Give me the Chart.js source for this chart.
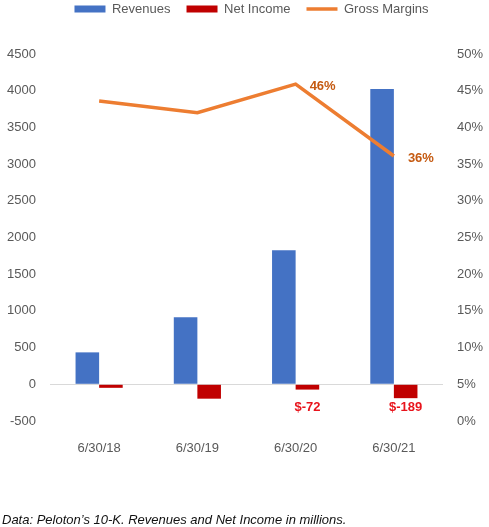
<!DOCTYPE html>
<html lang="en">
<head>
  <meta charset="UTF-8" />
  <title>Peloton Revenues, Net Income and Gross Margins</title>
  <script src="https://cdn.jsdelivr.net/npm/chart.js"></script>
  <style>
    body {
      margin: 0;
      background: #fff;
      font-family: "Liberation Sans", Arial, sans-serif;
    }

    .chart-box {
      position: relative;
      width: 489px;
      height: 527px;
    }

    .caption {
      position: absolute;
      left: 2px;
      top: 512px;
      font-size: 13px;
      font-style: italic;
      color: #111;
      white-space: nowrap;
    }
  </style>
</head>
<body>
  <div class="chart-box">
    <canvas id="chart-peloton"></canvas>
    <div class="caption">Data: Peloton’s 10-K. Revenues and Net Income in millions.</div>
  </div>

  <script>
    const years = ["6/30/18", "6/30/19", "6/30/20", "6/30/21"];
    const revenues = [435, 915, 1826, 4022];
    const netIncome = [-48, -196, -72, -189];
    const grossMargins = [43.6, 42.0, 45.9, 36.1];

    // which points get a value label
    const marginLabelAt = [2, 3];
    const incomeLabelAt = [2, 3];

    const axisGray = "#595959";

    const valueLabels = {
      id: "valueLabels",
      afterDatasetsDraw(chart) {
        const ctx = chart.ctx;
        ctx.save();
        ctx.font = "bold 13px 'Liberation Sans', Arial, sans-serif";
        ctx.textBaseline = "middle";

        const line = chart.getDatasetMeta(2);
        ctx.fillStyle = "#c55a11";
        ctx.textAlign = "left";
        marginLabelAt.forEach(i => {
          const p = line.data[i];
          ctx.fillText(Math.round(grossMargins[i]) + "%", p.x + 14, p.y + 2);
        });

        const bars = chart.getDatasetMeta(1);
        const yLabel = chart.scales.y.getPixelForValue(-315);
        ctx.fillStyle = "#e8141c";
        ctx.textAlign = "center";
        incomeLabelAt.forEach(i => {
          const b = bars.data[i];
          ctx.fillText("$" + netIncome[i], b.x, yLabel);
        });
        ctx.restore();
      }
    };

    new Chart(document.getElementById("chart-peloton"), {
      type: "bar",
      data: {
        labels: years,
        datasets: [
          {
            label: "Revenues",
            data: revenues,
            backgroundColor: "#4472c4",
            pointStyle: "rect",
            yAxisID: "y",
            order: 1
          },
          {
            label: "Net Income",
            data: netIncome,
            backgroundColor: "#c00000",
            pointStyle: "rect",
            yAxisID: "y",
            order: 1
          },
          {
            type: "line",
            label: "Gross Margins",
            data: grossMargins,
            borderColor: "#ed7d31",
            backgroundColor: "#ed7d31",
            borderWidth: 3.5,
            pointRadius: 0,
            pointStyle: "line",
            tension: 0,
            yAxisID: "y1",
            order: 0
          }
        ]
      },
      options: {
        responsive: true,
        maintainAspectRatio: false,
        animation: false,
        categoryPercentage: 0.48,
        barPercentage: 1,
        layout: {
          padding: { top: -13.5, left: 0, right: -14, bottom: 0 }
        },
        scales: {
          x: {
            grid: { display: false },
            border: { display: false },
            ticks: {
              color: axisGray,
              padding: 12,
              font: { size: 13 }
            },
            afterFit: s => { s.height = 106; }
          },
          y: {
            position: "left",
            min: -500,
            max: 4500,
            ticks: {
              stepSize: 500,
              color: axisGray,
              padding: 14,
              font: { size: 13 },
              callback: v => String(v)
            },
            grid: {
              drawTicks: false,
              color: c => (c.tick && c.tick.value === 0 ? "#d9d9d9" : "rgba(0,0,0,0)")
            },
            border: { display: false },
            afterFit: s => { s.width = 50; }
          },
          y1: {
            position: "right",
            min: 0,
            max: 50,
            ticks: {
              stepSize: 5,
              color: axisGray,
              padding: 14,
              font: { size: 13 },
              callback: v => v + "%"
            },
            grid: { display: false, drawTicks: false },
            border: { display: false },
            afterFit: s => { s.width = 60; }
          }
        },
        plugins: {
          legend: {
            labels: {
              usePointStyle: true,
              pointStyleWidth: 31,
              boxHeight: 7,
              padding: 16,
              color: axisGray,
              font: { size: 13 },
              sort: (a, b) => a.datasetIndex - b.datasetIndex
            }
          },
          // empty title used as a spacer between legend and plot
          title: {
            display: true,
            text: "",
            weight: 500,
            font: { size: 10, lineHeight: 1 },
            padding: { top: 0, bottom: 18.5 }
          },
          tooltip: { enabled: false }
        }
      },
      plugins: [valueLabels]
    });
  </script>
</body>
</html>
